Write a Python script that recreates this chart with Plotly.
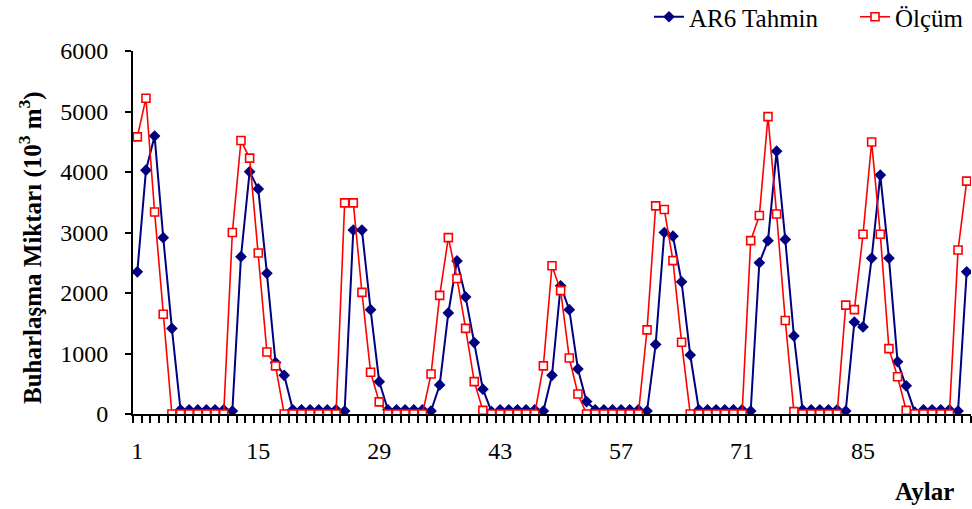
import plotly.graph_objects as go

months = list(range(1, 98))

ar6_tahmin = [
    2350, 4030, 4595, 2915, 1415, 70, 70, 70, 70, 70, 70, 50,
    2600, 4005, 3720, 2325, 850, 640, 70, 70, 70, 70, 70, 70,
    50, 3040, 3040, 1725, 535, 70, 70, 70, 70, 70, 50, 480,
    1670, 2530, 1935, 1180, 410, 40, 70, 70, 70, 70, 70, 50,
    640, 2120, 1725, 745, 205, 70, 70, 70, 70, 70, 70, 50,
    1150, 3000, 2940, 2185, 975, 70, 70, 70, 70, 70, 70, 50,
    2500, 2865, 4345, 2885, 1290, 70, 70, 70, 70, 70, 50, 1520,
    1440, 2575, 3950, 2575, 865, 465, 30, 70, 70, 70, 70, 50,
    2350,
]

olcum = [
    4580, 5220, 3340, 1650, 0, 0, 0, 0, 0, 0, 0, 3000,
    4520, 4230, 2660, 1025, 795, 0, 0, 0, 0, 0, 0, 0,
    3490, 3490, 2010, 690, 200, 0, 0, 0, 0, 0, 660, 1960,
    2915, 2240, 1415, 535, 60, 0, 0, 0, 0, 0, 0, 795,
    2450, 2040, 925, 330, 0, 0, 0, 0, 0, 0, 0, 1390,
    3440, 3380, 2535, 1185, 0, 0, 0, 0, 0, 0, 0, 2865,
    3280, 4915, 3305, 1545, 40, 0, 0, 0, 0, 0, 1800, 1725,
    2970, 4495, 2970, 1080, 615, 60, 0, 0, 0, 0, 0, 2710,
    3850,
]

x_tick_vals = [1, 15, 29, 43, 57, 71, 85]
x_tick_text = ["1", "15", "29", "43", "57", "71", "85"]
y_tick_vals = [0, 1000, 2000, 3000, 4000, 5000, 6000]

FONT = "Liberation Serif"
ML, MR, MT, MB = 133, 1, 51, 95
W, H = 972, 509

fig = go.Figure()
fig.add_trace(go.Scatter(
    x=months, y=ar6_tahmin, name="AR6 Tahmin", mode="lines+markers",
    line=dict(color="#000080", width=2),
    marker=dict(symbol="diamond", size=9, color="#000080"),
    legend="legend",
))
fig.add_trace(go.Scatter(
    x=months, y=olcum, name="Ölçüm", mode="lines+markers",
    line=dict(color="#FF0000", width=1.6),
    marker=dict(symbol="square", size=8, color="white",
                line=dict(color="#FF0000", width=1.6)),
    legend="legend2",
))

pw = W - ML - MR
ph = H - MT - MB


def px2paper(px_x, px_y):
    return (px_x - ML) / pw, (H - MB - px_y) / ph


l1x, l1y = px2paper(824, 17)
l2x, l2y = px2paper(969, 17)
yt_x, yt_y = px2paper(30, 248)
xt_x, xt_y = px2paper(924, 491)

leg_common = dict(orientation="h", xanchor="right", yanchor="middle",
                  font=dict(family=FONT, size=25, color="black"),
                  bgcolor="rgba(0,0,0,0)", itemwidth=30)

fig.update_layout(
    width=W, height=H,
    margin=dict(l=ML, r=MR, t=MT, b=MB, autoexpand=False),
    paper_bgcolor="white", plot_bgcolor="white",
    font=dict(family=FONT, size=24, color="black"),
    showlegend=True,
    legend=dict(x=l1x, y=l1y, **leg_common),
    legend2=dict(x=l2x, y=l2y, **leg_common),
    xaxis=dict(
        range=[0.5, 97.5], showgrid=False, zeroline=False,
        showline=True, linecolor="black", linewidth=2,
        tickmode="array", tickvals=x_tick_vals, ticktext=x_tick_text,
        ticks="", ticklabelstandoff=14,
        tickfont=dict(family=FONT, size=24, color="black"),
        minor=dict(ticks="outside", tick0=0.5, dtick=1, ticklen=7,
                   tickwidth=2, tickcolor="black"),
    ),
    yaxis=dict(
        range=[0, 6000], showgrid=False, zeroline=False,
        showline=True, linecolor="black", linewidth=2,
        tickmode="array", tickvals=y_tick_vals,
        ticks="outside", ticklen=6, tickwidth=2, tickcolor="black",
        ticklabelstandoff=12,
        tickfont=dict(family=FONT, size=24, color="black"),
    ),
    annotations=[
        dict(text="<b>Buharlaşma Miktarı (10<sup>3</sup> m<sup>3</sup>)</b>",
             x=yt_x, y=yt_y, xref="paper", yref="paper", showarrow=False,
             textangle=-90, font=dict(family=FONT, size=25, color="black"),
             xanchor="center", yanchor="middle"),
        dict(text="<b>Aylar</b>", x=xt_x, y=xt_y, xref="paper", yref="paper",
             showarrow=False, font=dict(family=FONT, size=25, color="black"),
             xanchor="center", yanchor="middle"),
    ],
)

fig.write_html("out.html", config={"displayModeBar": False},
               post_script="document.body.style.margin='0';")
